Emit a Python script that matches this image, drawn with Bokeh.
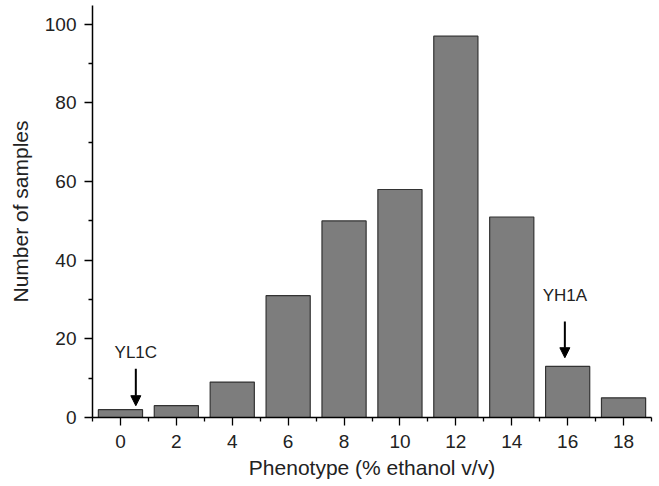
from bokeh.plotting import figure
from bokeh.models import FixedTicker, Arrow, NormalHead, Label, Range1d
from bokeh.embed import file_html
from bokeh.resources import INLINE

phenotype = [0, 2, 4, 6, 8, 10, 12, 14, 16, 18]
samples = [2, 3, 9, 31, 50, 58, 97, 51, 13, 5]
x_ticks = [0, 2, 4, 6, 8, 10, 12, 14, 16, 18]
x_minor = [-1, 1, 3, 5, 7, 9, 11, 13, 15, 17, 19]
y_ticks = [0, 20, 40, 60, 80, 100]
y_minor = [10, 30, 50, 70, 90]

ann_names = ["YL1C", "YH1A"]
ann_x = [0.55, 15.9]
ann_text_y = [16.5, 31.0]
ann_arrow_start = [12.4, 24.4]
ann_arrow_end = [3.0, 15.2]

FONT = "Liberation Sans"

p = figure(width=659, height=486, output_backend="svg", toolbar_location=None,
           x_range=Range1d(-1, 19), y_range=Range1d(0, 104.8),
           min_border_left=92, min_border_right=8, min_border_top=5, min_border_bottom=69)
p.outline_line_color = None
p.xgrid.visible = False
p.ygrid.visible = False

p.vbar(x=phenotype, top=samples, width=1.58, bottom=0,
       fill_color="#7d7d7d", line_color="#333333", line_width=1.2)

for ax, ticks, minor in ((p.xaxis[0], x_ticks, x_minor), (p.yaxis[0], y_ticks, y_minor)):
    ax.ticker = FixedTicker(ticks=ticks, minor_ticks=minor)
    ax.axis_line_color = "black"
    ax.axis_line_width = 1.5
    ax.major_tick_line_color = "black"
    ax.major_tick_line_width = 1.3
    ax.minor_tick_line_color = "black"
    ax.minor_tick_line_width = 1.3
    ax.major_tick_out = 8
    ax.major_tick_in = 0
    ax.minor_tick_out = 4
    ax.minor_tick_in = 0
    ax.major_label_text_font = FONT
    ax.major_label_text_font_size = "19px"
    ax.major_label_text_color = "#222222"
    ax.axis_label_text_font = FONT
    ax.axis_label_text_font_size = "21px"
    ax.axis_label_text_font_style = "normal"
    ax.axis_label_text_color = "#222222"

p.xaxis.axis_label = "Phenotype (% ethanol v/v)"
p.yaxis.axis_label = "Number of samples"
p.xaxis.major_label_standoff = 9
p.yaxis.major_label_standoff = 8
p.xaxis.axis_label_standoff = 5
p.yaxis.axis_label_standoff = 10

for name, x, ty, y0, y1 in zip(ann_names, ann_x, ann_text_y, ann_arrow_start, ann_arrow_end):
    p.add_layout(Arrow(x_start=x, y_start=y0, x_end=x, y_end=y1, line_width=2, line_color="black",
                       end=NormalHead(size=10, fill_color="black", line_color="black")))
    p.add_layout(Label(x=x, y=ty, text=name, text_align="center", text_baseline="middle",
                       text_font=FONT, text_font_size="17px", text_color="#222222"))

open("out.html", "w").write(file_html(p, INLINE))
